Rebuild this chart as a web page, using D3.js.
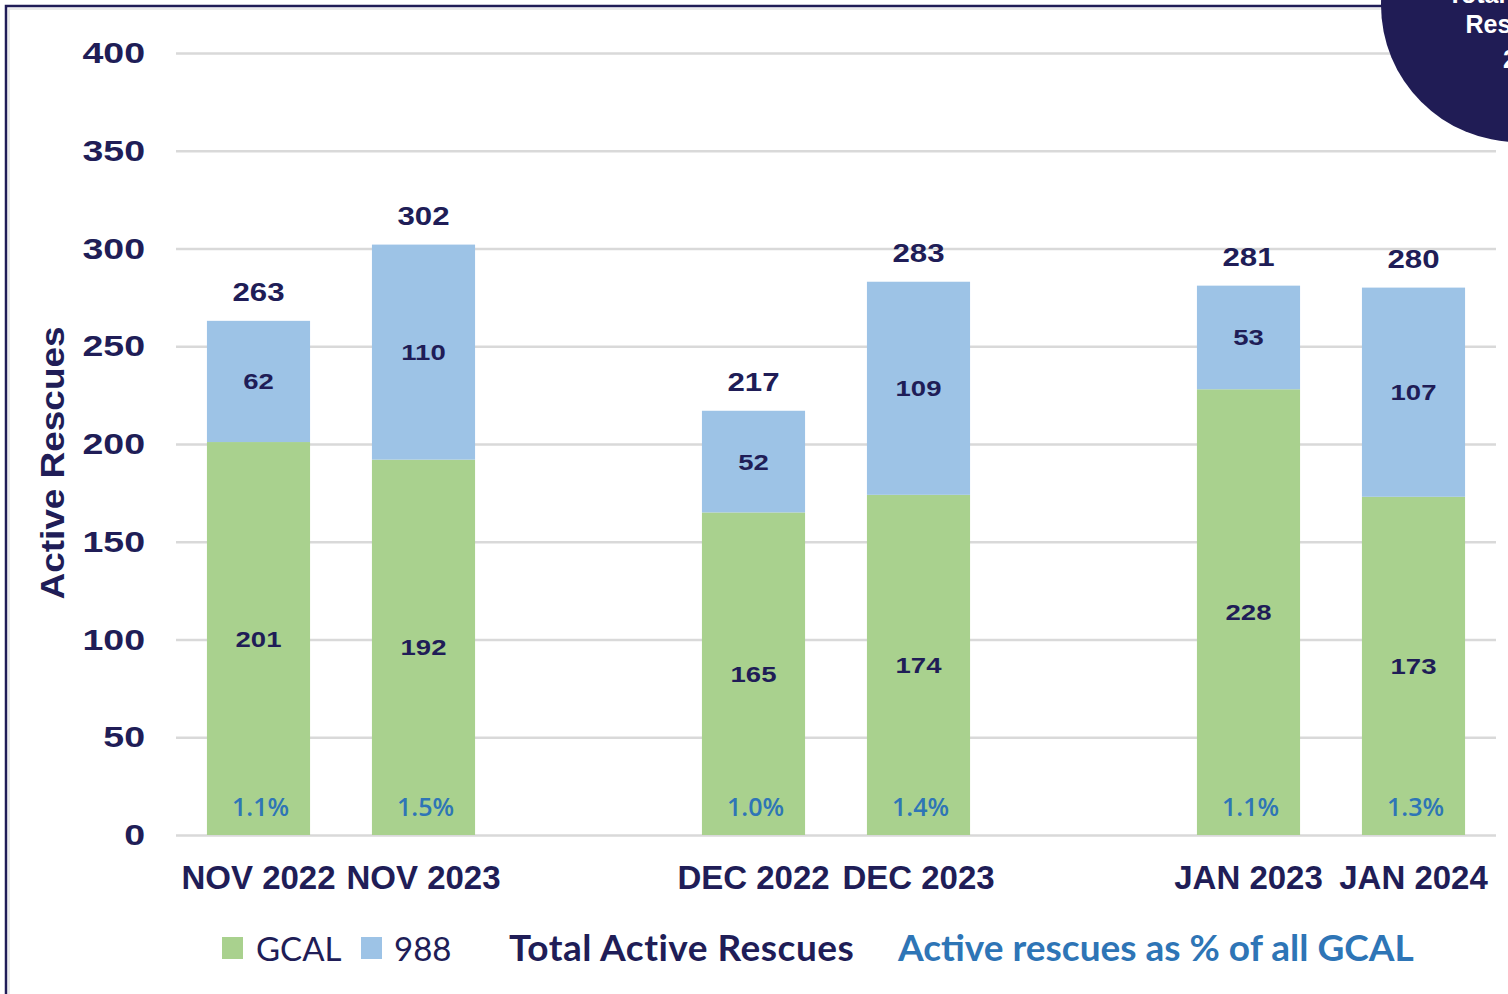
<!DOCTYPE html>
<meta charset="utf-8">
<body>
<script src="https://cdn.jsdelivr.net/npm/d3@7"></script>
<style>
    html, body {
        margin: 0;
        background: #fff;
        overflow: hidden;
    }
</style>
<script>
var months = ["NOV 2022", "NOV 2023", "DEC 2022", "DEC 2023", "JAN 2023", "JAN 2024"],
    gcal = [201, 192, 165, 174, 228, 173],
    c988 = [62, 110, 52, 109, 53, 107],
    pct = ["1.1%", "1.5%", "1.0%", "1.4%", "1.1%", "1.3%"],
    yTicks = [0, 50, 100, 150, 200, 250, 300, 350, 400];

var navy = "#201d57",
    green = "#a9d18e",
    blue = "#9dc3e6",
    pctBlue = "#2e75b6",
    grid = "#d9d9d9";

var width = 1508, height = 994;

// slots: two months, then an empty slot
var slots = [];
months.forEach(function(m, i) {
    slots.push(m);
    if (i % 2 == 1 && i < months.length - 1) slots.push("gap" + i);
});

var data = months.map(function(m, i) {
    return {m: m, g: gcal[i], b: c988[i], total: gcal[i] + c988[i], pct: pct[i]};
});

var svg = d3.select("body").append("svg")
    .attr("width", width)
    .attr("height", height);

// frame
svg.append("rect")
    .attr("x", 6).attr("y", 6)
    .attr("width", width + 20).attr("height", height + 20)
    .attr("fill", "none")
    .attr("stroke", navy)
    .attr("stroke-width", 2.5);
svg.append("rect")
    .attr("x", 9).attr("y", 9)
    .attr("width", width + 20).attr("height", height + 20)
    .attr("fill", "none")
    .attr("stroke", "#e4e4e4")
    .attr("stroke-width", 1.5);

var x = d3.scaleBand()
    .domain(slots)
    .range([176, 1496])
    .paddingInner(0.375)
    .paddingOuter(0.1875);

var y = d3.scaleLinear()
    .domain([0, 400])
    .range([835, 53]);

// y axis + grid
var yAxis = svg.append("g")
    .attr("transform", "translate(176,0)")
    .call(d3.axisLeft(y).tickValues(yTicks).tickSize(-(1496 - 176)).tickPadding(0));
yAxis.select(".domain").remove();
yAxis.selectAll(".tick line")
    .attr("stroke", grid)
    .attr("stroke-width", 2.5);
yAxis.selectAll(".tick text")
    .attr("x", 0)
    .attr("transform", "translate(-31,0) scale(1.25,1)")
    .attr("fill", navy)
    .style("font", "bold 30px 'Liberation Sans', Arial, sans-serif");

// x axis labels
var xAxis = svg.append("g")
    .attr("transform", "translate(0,835)")
    .call(d3.axisBottom(x).tickSize(0).tickPadding(0)
        .tickFormat(function(d) { return d.indexOf("gap") == 0 ? "" : d; }));
xAxis.select(".domain").remove();
xAxis.selectAll(".tick text")
    .attr("y", 54)
    .attr("dy", null)
    .attr("fill", navy)
    .style("font", "bold 33px 'Liberation Sans', Arial, sans-serif");

// y title
svg.append("text")
    .attr("transform", "translate(64,463) rotate(-90) scale(1.12,1)")
    .attr("text-anchor", "middle")
    .attr("fill", navy)
    .style("font", "bold 33px 'Liberation Sans', Arial, sans-serif")
    .text("Active Rescues");

var bars = svg.append("g").selectAll("g")
    .data(data)
    .enter().append("g");

bars.append("rect")
    .attr("x", function(d) { return x(d.m); })
    .attr("width", x.bandwidth())
    .attr("y", function(d) { return y(d.g); })
    .attr("height", function(d) { return y(0) - y(d.g); })
    .attr("fill", green);

bars.append("rect")
    .attr("x", function(d) { return x(d.m); })
    .attr("width", x.bandwidth())
    .attr("y", function(d) { return y(d.total); })
    .attr("height", function(d) { return y(d.g) - y(d.total); })
    .attr("fill", blue);

function cx(d) { return x(d.m) + x.bandwidth() / 2; }

bars.append("text")
    .attr("transform", function(d) {
        return "translate(" + [cx(d), y(d.g / 2) + 8] + ") scale(1.25,1)";
    })
    .attr("text-anchor", "middle")
    .attr("fill", navy)
    .style("font", "bold 22px 'Liberation Sans', Arial, sans-serif")
    .text(function(d) { return d.g; });

bars.append("text")
    .attr("transform", function(d) {
        return "translate(" + [cx(d), y(d.g + d.b / 2) + 8] + ") scale(1.25,1)";
    })
    .attr("text-anchor", "middle")
    .attr("fill", navy)
    .style("font", "bold 22px 'Liberation Sans', Arial, sans-serif")
    .text(function(d) { return d.b; });

bars.append("text")
    .attr("transform", function(d) {
        return "translate(" + [cx(d), y(d.total) - 20] + ") scale(1.2,1)";
    })
    .attr("text-anchor", "middle")
    .attr("fill", navy)
    .style("font", "bold 26px 'Liberation Sans', Arial, sans-serif")
    .text(function(d) { return d.total; });

bars.append("text")
    .attr("x", function(d) { return cx(d) + 2; })
    .attr("y", y(0) - 19)
    .attr("text-anchor", "middle")
    .attr("fill", pctBlue)
    .style("font", "600 25px 'Open Sans', Lato, sans-serif")
    .text(function(d) { return d.pct; });

// legend
var leg = svg.append("g").attr("transform", "translate(0,961)");
var legFont = "33px Lato, 'Open Sans', sans-serif";
leg.append("rect").attr("x", 222).attr("y", -24).attr("width", 21).attr("height", 22).attr("fill", green);
leg.append("text").attr("x", 256).attr("fill", navy).style("font", legFont).text("GCAL");
leg.append("rect").attr("x", 361).attr("y", -24).attr("width", 21).attr("height", 22).attr("fill", blue);
leg.append("text").attr("x", 394).attr("fill", navy).style("font", legFont).text("988");
leg.append("text").attr("x", 509).attr("fill", navy)
    .style("font", "bold 37px Lato, 'Open Sans', sans-serif")
    .style("letter-spacing", "0.5px")
    .text("Total Active Rescues");
leg.append("text").attr("x", 898).attr("fill", pctBlue)
    .style("font", "bold 37px Lato, 'Open Sans', sans-serif").text("Active rescues as % of all GCAL");

// badge circle top right
svg.append("circle")
    .attr("cx", 1518).attr("cy", 5).attr("r", 137)
    .attr("fill", "#201c55");
var badge = svg.append("text")
    .attr("text-anchor", "middle")
    .attr("fill", "#fff")
    .style("font", "bold 25px 'Liberation Sans', Arial, sans-serif");
[["Total Active", 3], ["Rescues", 33], ["24", 68]].forEach(function(t) {
    badge.append("tspan").attr("x", 1517).attr("y", t[1]).text(t[0]);
});
</script>
